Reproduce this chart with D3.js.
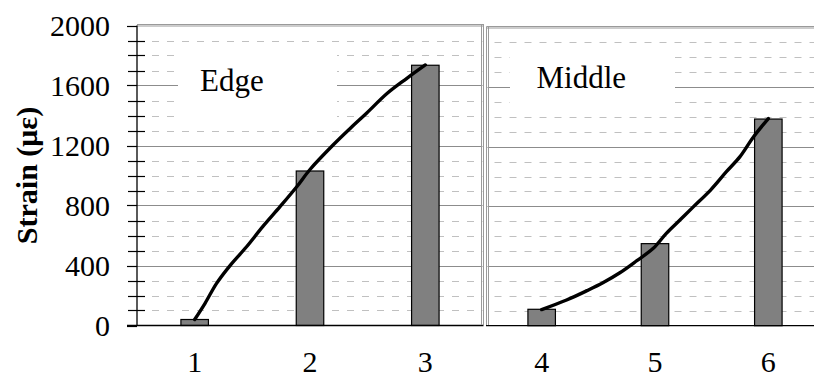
<!DOCTYPE html>
<html>
<head>
<meta charset="utf-8">
<script src="https://cdn.jsdelivr.net/npm/d3@7"></script>
<style>
  html, body { margin: 0; padding: 0; background: #fff; }
  svg { display: block; }
</style>
</head>
<body>
<svg id="chart" width="814" height="378"></svg>
<script>
// ---------- data ----------
const edgeCategories = [1, 2, 3];
const edgeValues = [40, 1030, 1735];
const middleCategories = [4, 5, 6];
const middleValues = [110, 550, 1385];

// trend curves (position along category axis, strain)
const edgeCurvePos = [1.0, 1.09, 1.19, 1.31, 1.45, 1.59, 1.74, 1.885, 2.0, 2.2, 2.35, 2.49, 2.67, 2.84, 3.0];
const edgeCurveVal = [40, 148, 281, 403, 525, 659, 792, 925, 1040, 1203, 1315, 1415, 1548, 1648, 1737];
const middleCurvePos = [4.0, 4.22, 4.40, 4.54, 4.69, 4.84, 4.985, 5.10, 5.22, 5.34, 5.49, 5.63, 5.75, 5.87, 6.0];
const middleCurveVal = [108, 172, 235, 288, 355, 436, 519, 619, 708, 798, 909, 1032, 1133, 1267, 1388];

const majorTicks = [0, 400, 800, 1200, 1600, 2000];
const minorTicks = [100, 200, 300, 500, 600, 700, 900, 1000, 1100, 1300, 1400, 1500, 1700, 1800, 1900];
const panelLabels = ["Edge", "Middle"];
const yTitle = "Strain (\u03bc\u03b5)";

const FONT = "'Liberation Serif', 'DejaVu Serif', 'Times New Roman', Times, serif";

// ---------- layout ----------
const svg = d3.select("#chart").attr("font-family", FONT);
const panels = [
  { cats: edgeCategories, vals: edgeValues, cPos: edgeCurvePos, cVal: edgeCurveVal, label: panelLabels[0],
    xDom: [0.5, 3.5], xRange: [137, 483], yRange: [325.5, 25.5],
    box: { x: 178, y: 47, w: 159, h: 76 }, labelX: 200, labelY: 90.5 },
  { cats: middleCategories, vals: middleValues, cPos: middleCurvePos, cVal: middleCurveVal, label: panelLabels[1],
    xDom: [3.5, 6.5], xRange: [485, 825], yRange: [325.7, 27.3],
    box: { x: 510, y: 48, w: 165, h: 61 }, labelX: 536.5, labelY: 87.5 }
];

const gridG = svg.append("g");
const markG = svg.append("g");
const frameG = svg.append("g");

panels.forEach((p, i) => {
  const x = d3.scaleLinear().domain(p.xDom).range(p.xRange);
  const y = d3.scaleLinear().domain([0, 2000]).range(p.yRange);
  const left = i === 0 ? 137 : 487.5;
  const right = i === 0 ? 482.5 : 814;

  // minor dashed grid
  gridG.selectAll(null).data(minorTicks).join("line")
    .attr("x1", i === 0 ? 145 : left).attr("x2", right)
    .attr("y1", d => Math.round(y(d)) + 0.5).attr("y2", d => Math.round(y(d)) + 0.5)
    .attr("stroke", "#c0c0c0").attr("stroke-width", 1)
    .attr("stroke-dasharray", "7,8").attr("stroke-dashoffset", -7);
  // major solid grid
  gridG.selectAll(null).data(majorTicks.filter(d => d > 0 && d < 2000)).join("line")
    .attr("x1", left).attr("x2", right)
    .attr("y1", d => Math.round(y(d)) + 0.5).attr("y2", d => Math.round(y(d)) + 0.5)
    .attr("stroke", "#8c8c8c").attr("stroke-width", 1);

  // label box
  gridG.append("rect").attr("x", p.box.x).attr("y", p.box.y)
    .attr("width", p.box.w).attr("height", p.box.h).attr("fill", "#fff");
  gridG.append("text").attr("x", p.labelX).attr("y", p.labelY)
    .attr("font-family", FONT).attr("font-size", 31).attr("fill", "#000").text(p.label);

  // bars
  const bw = 27.5;
  markG.selectAll(null).data(p.cats).join("rect")
    .attr("x", (d) => x(d) - bw / 2)
    .attr("y", (d, j) => y(p.vals[j]))
    .attr("width", bw)
    .attr("height", (d, j) => y(0) - y(p.vals[j]))
    .attr("fill", "#808080").attr("stroke", "#000").attr("stroke-width", 1.2);

  // curve
  const pts = p.cPos.map((c, j) => [x(c), y(p.cVal[j])]);
  markG.append("path").datum(pts)
    .attr("d", d3.line().curve(d3.curveCatmullRom.alpha(0.5)))
    .attr("fill", "none").attr("stroke", "#000").attr("stroke-width", 3.4)
    .attr("stroke-linecap", "round").attr("stroke-linejoin", "round");

  // category labels
  frameG.selectAll(null).data(p.cats).join("text")
    .attr("x", d => x(d)).attr("y", 371.5)
    .attr("text-anchor", "middle").attr("font-family", FONT).attr("font-size", 30).attr("fill", "#000")
    .text(d => d);

  // bottom axis line
  frameG.append("line")
    .attr("x1", i === 0 ? 127 : 486).attr("x2", right + (i === 0 ? 1 : 0))
    .attr("y1", y(0)).attr("y2", y(0))
    .attr("stroke", "#000").attr("stroke-width", 1.3);
});

// panel frames (double gray lines)
function dbl(x1, y1, x2, y2, dx, dy) {
  [0, 1].forEach(k => {
    frameG.append("line")
      .attr("x1", x1 + k * dx).attr("y1", y1 + k * dy)
      .attr("x2", x2 + k * dx).attr("y2", y2 + k * dy)
      .attr("stroke", "#9a9a9a").attr("stroke-width", 1);
  });
}
dbl(137, 24.5, 484, 24.5, 0, 1.5);
dbl(481.5, 24.5, 481.5, 325, 2, 0);
dbl(486.5, 26.5, 814, 26.5, 0, 1.5);
dbl(486.5, 26.5, 486.5, 325, 2, 0);

// y axis (left panel)
const yL = d3.scaleLinear().domain([0, 2000]).range([325.5, 25.5]);
frameG.append("line").attr("x1", 137).attr("x2", 137)
  .attr("y1", yL(2000)).attr("y2", yL(0)).attr("stroke", "#000").attr("stroke-width", 1.3);
frameG.selectAll(null).data(majorTicks).join("line")
  .attr("x1", 127).attr("x2", 137)
  .attr("y1", d => Math.round(yL(d)) + 0.5).attr("y2", d => Math.round(yL(d)) + 0.5)
  .attr("stroke", "#000").attr("stroke-width", 1.2);
frameG.selectAll(null).data(minorTicks).join("line")
  .attr("x1", 128).attr("x2", 145)
  .attr("y1", d => Math.round(yL(d)) + 0.5).attr("y2", d => Math.round(yL(d)) + 0.5)
  .attr("stroke", "#000").attr("stroke-width", 1.2);
frameG.selectAll(null).data(majorTicks).join("text")
  .attr("x", 110).attr("y", d => yL(d)).attr("dy", "0.34em")
  .attr("text-anchor", "end").attr("font-family", FONT).attr("font-size", 30).attr("fill", "#000")
  .text(d => d);

// y title
frameG.append("text")
  .attr("transform", "translate(36.5,175.5) rotate(-90)")
  .attr("text-anchor", "middle").attr("font-family", FONT).attr("font-size", 30)
  .attr("font-weight", "bold").attr("fill", "#000")
  .text(yTitle);
</script>
</body>
</html>
